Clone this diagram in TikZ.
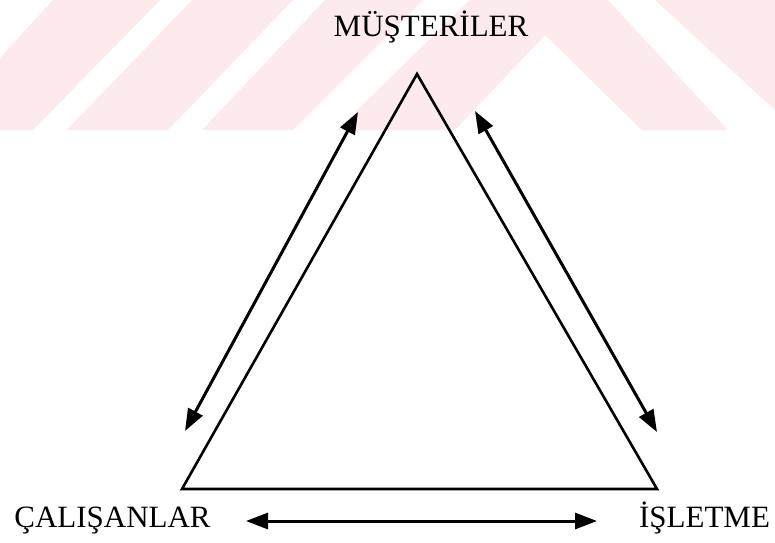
\documentclass[tikz,border=0pt]{standalone}
\usepackage{fontspec}
\setmainfont{Liberation Serif}
\usetikzlibrary{arrows.meta}
\definecolor{wmpink}{RGB}{252,234,237}
\tikzset{
  lbl/.style={anchor=base, inner sep=0pt, font=\fontsize{31}{36}\selectfont},
  tri/.style={line width=2.6pt, line join=miter},
  dbl/.style={line width=3pt, {Triangle[length=22pt,width=16pt]}-{Triangle[length=22pt,width=16pt]}},
  wm/.style={fill=wmpink, draw=none}
}
\begin{document}
\begin{tikzpicture}[x=1pt,y=-1pt]
\useasboundingbox (0,0) rectangle (775,542);
\fill[white] (0,0) rectangle (775,542);
% watermark bands
\fill[wm] (53,0) -- (160,0) -- (33,130) -- (0,130) -- (0,58) -- cycle;
\fill[wm] (192,0) -- (293,0) -- (168,130) -- (67,130) -- cycle;
\fill[wm] (325,0) -- (423,0) -- (293,130) -- (202,130) -- cycle;
\fill[wm] (470,0) -- (608,0) -- (728,130) -- (642,130) -- (545,35) -- (455,130) -- (337,130) -- cycle;
\fill[wm] (655,0) -- (775,0) -- (775,110) -- cycle;
% labels
\node[lbl] (mus) at (431,36) {MÜŞTERİLER};
\node[lbl] (cal) at (112.5,527) {ÇALIŞANLAR};
\node[lbl] (isl) at (704.5,527) {İŞLETME};
% triangle
\coordinate (A) at (417,74);
\coordinate (B) at (182,489);
\coordinate (C) at (657,489);
\draw[tri] (A) -- (B) -- (C) -- cycle;
% arrows
\coordinate (l1) at (358,112);
\coordinate (l2) at (185,431);
\coordinate (r1) at (475,111);
\coordinate (r2) at (657,432);
\coordinate (b1) at (246,521);
\coordinate (b2) at (597,521);
\draw[dbl] (l1) -- (l2);
\draw[dbl] (r1) -- (r2);
\draw[dbl] (b1) -- (b2);
\end{tikzpicture}
\end{document}
